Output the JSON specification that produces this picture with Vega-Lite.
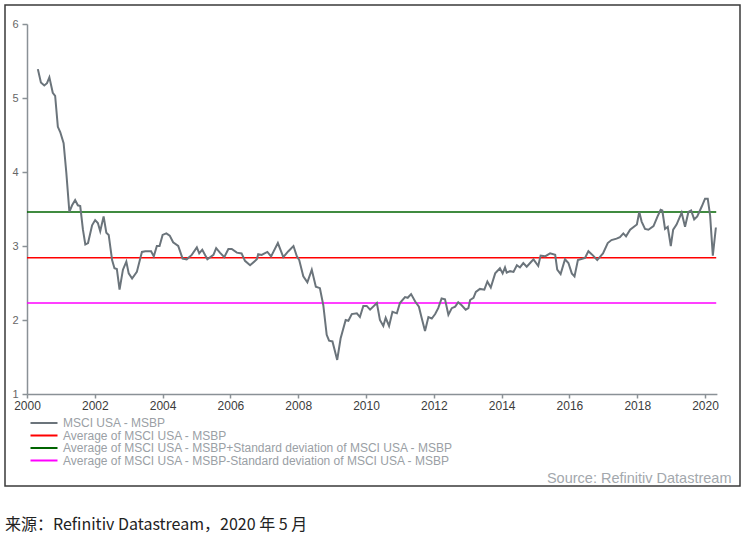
{
  "$schema": "https://vega.github.io/schema/vega-lite/v6.json",
  "width": 735,
  "height": 481,
  "autosize": "none",
  "padding": {"left": 5, "top": 5, "right": 7, "bottom": 57},
  "background": "white",
  "config": {
    "view": {"stroke": "#3a3a3a", "strokeWidth": 1.5},
    "font": "Liberation Sans",
    "axis": {"grid": false, "domainColor": "#8a9196", "domainWidth": 1.5, "tickColor": "#8a9196", "tickWidth": 1.5, "labelFont": "Liberation Sans"},
    "legend": {
      "orient": "none",
      "legendX": 33,
      "legendY": 412,
      "padding": 0,
      "title": null,
      "symbolType": "M-3,0H3",
      "symbolSize": 81,
      "symbolStrokeWidth": 2,
      "labelFont": "Liberation Sans",
      "labelFontSize": 12,
      "labelColor": "#9aa0a5",
      "labelOffset": 13,
      "labelLimit": 600,
      "rowPadding": 0.5
    }
  },
  "title": {
    "text": "来源：Refinitiv Datastream，2020 年 5 月",
    "orient": "bottom",
    "anchor": "start",
    "frame": "group",
    "font": "Noto Sans CJK SC",
    "fontSize": 16,
    "fontWeight": "normal",
    "color": "#222222",
    "offset": 31
  },
  "datasets": {
    "main": [
      {"t": 2000.32, "v": 5.39}, {"t": 2000.41, "v": 5.21}, {"t": 2000.51, "v": 5.17}, {"t": 2000.59, "v": 5.20},
      {"t": 2000.66, "v": 5.28}, {"t": 2000.76, "v": 5.07}, {"t": 2000.83, "v": 5.03}, {"t": 2000.91, "v": 4.61},
      {"t": 2000.98, "v": 4.54}, {"t": 2001.08, "v": 4.39}, {"t": 2001.16, "v": 3.99}, {"t": 2001.25, "v": 3.46},
      {"t": 2001.33, "v": 3.55}, {"t": 2001.42, "v": 3.62}, {"t": 2001.50, "v": 3.55}, {"t": 2001.57, "v": 3.54},
      {"t": 2001.65, "v": 3.22}, {"t": 2001.72, "v": 3.02}, {"t": 2001.80, "v": 3.04}, {"t": 2001.92, "v": 3.28},
      {"t": 2002.01, "v": 3.35}, {"t": 2002.09, "v": 3.31}, {"t": 2002.16, "v": 3.20}, {"t": 2002.26, "v": 3.40},
      {"t": 2002.34, "v": 3.18}, {"t": 2002.41, "v": 3.15}, {"t": 2002.51, "v": 2.81}, {"t": 2002.58, "v": 2.70},
      {"t": 2002.65, "v": 2.69}, {"t": 2002.73, "v": 2.41}, {"t": 2002.83, "v": 2.68}, {"t": 2002.93, "v": 2.79},
      {"t": 2003.00, "v": 2.63}, {"t": 2003.10, "v": 2.56}, {"t": 2003.24, "v": 2.65}, {"t": 2003.39, "v": 2.92},
      {"t": 2003.49, "v": 2.93}, {"t": 2003.66, "v": 2.93}, {"t": 2003.74, "v": 2.86}, {"t": 2003.83, "v": 3.00},
      {"t": 2003.91, "v": 3.00}, {"t": 2004.00, "v": 3.15}, {"t": 2004.11, "v": 3.17}, {"t": 2004.21, "v": 3.14},
      {"t": 2004.31, "v": 3.05}, {"t": 2004.46, "v": 3.00}, {"t": 2004.59, "v": 2.83}, {"t": 2004.71, "v": 2.82},
      {"t": 2004.86, "v": 2.88}, {"t": 2005.01, "v": 2.98}, {"t": 2005.08, "v": 2.90}, {"t": 2005.17, "v": 2.95},
      {"t": 2005.32, "v": 2.82}, {"t": 2005.50, "v": 2.88}, {"t": 2005.58, "v": 2.97}, {"t": 2005.69, "v": 2.91},
      {"t": 2005.82, "v": 2.85}, {"t": 2005.94, "v": 2.96}, {"t": 2006.04, "v": 2.96}, {"t": 2006.19, "v": 2.91},
      {"t": 2006.33, "v": 2.90}, {"t": 2006.43, "v": 2.80}, {"t": 2006.58, "v": 2.74}, {"t": 2006.78, "v": 2.82},
      {"t": 2006.82, "v": 2.89}, {"t": 2006.92, "v": 2.88}, {"t": 2007.09, "v": 2.92}, {"t": 2007.20, "v": 2.86},
      {"t": 2007.40, "v": 3.04}, {"t": 2007.56, "v": 2.85}, {"t": 2007.71, "v": 2.93}, {"t": 2007.86, "v": 3.00},
      {"t": 2007.96, "v": 2.86}, {"t": 2008.03, "v": 2.81}, {"t": 2008.15, "v": 2.59}, {"t": 2008.27, "v": 2.51},
      {"t": 2008.40, "v": 2.68}, {"t": 2008.52, "v": 2.45}, {"t": 2008.64, "v": 2.43}, {"t": 2008.74, "v": 2.20},
      {"t": 2008.84, "v": 1.80}, {"t": 2008.91, "v": 1.72}, {"t": 2009.01, "v": 1.71}, {"t": 2009.15, "v": 1.46},
      {"t": 2009.25, "v": 1.75}, {"t": 2009.40, "v": 2.00}, {"t": 2009.48, "v": 1.99}, {"t": 2009.58, "v": 2.08},
      {"t": 2009.73, "v": 2.09}, {"t": 2009.82, "v": 2.04}, {"t": 2009.92, "v": 2.19}, {"t": 2010.02, "v": 2.19},
      {"t": 2010.12, "v": 2.14}, {"t": 2010.32, "v": 2.23}, {"t": 2010.41, "v": 2.00}, {"t": 2010.51, "v": 1.92},
      {"t": 2010.58, "v": 2.03}, {"t": 2010.68, "v": 1.92}, {"t": 2010.78, "v": 2.11}, {"t": 2010.91, "v": 2.09},
      {"t": 2011.00, "v": 2.23}, {"t": 2011.15, "v": 2.31}, {"t": 2011.23, "v": 2.30}, {"t": 2011.33, "v": 2.35},
      {"t": 2011.45, "v": 2.25}, {"t": 2011.56, "v": 2.18}, {"t": 2011.64, "v": 2.03}, {"t": 2011.74, "v": 1.85},
      {"t": 2011.84, "v": 2.04}, {"t": 2011.94, "v": 2.02}, {"t": 2012.04, "v": 2.08}, {"t": 2012.13, "v": 2.16},
      {"t": 2012.23, "v": 2.29}, {"t": 2012.33, "v": 2.28}, {"t": 2012.43, "v": 2.07}, {"t": 2012.53, "v": 2.16},
      {"t": 2012.63, "v": 2.18}, {"t": 2012.72, "v": 2.24}, {"t": 2012.82, "v": 2.20}, {"t": 2012.94, "v": 2.14},
      {"t": 2013.02, "v": 2.16}, {"t": 2013.07, "v": 2.27}, {"t": 2013.17, "v": 2.30}, {"t": 2013.24, "v": 2.38},
      {"t": 2013.36, "v": 2.42}, {"t": 2013.49, "v": 2.41}, {"t": 2013.58, "v": 2.52}, {"t": 2013.68, "v": 2.44},
      {"t": 2013.81, "v": 2.63}, {"t": 2013.95, "v": 2.70}, {"t": 2014.03, "v": 2.63}, {"t": 2014.10, "v": 2.71},
      {"t": 2014.15, "v": 2.64}, {"t": 2014.25, "v": 2.66}, {"t": 2014.35, "v": 2.65}, {"t": 2014.45, "v": 2.74},
      {"t": 2014.54, "v": 2.71}, {"t": 2014.64, "v": 2.77}, {"t": 2014.74, "v": 2.72}, {"t": 2014.84, "v": 2.77},
      {"t": 2014.94, "v": 2.82}, {"t": 2015.08, "v": 2.73}, {"t": 2015.15, "v": 2.87}, {"t": 2015.28, "v": 2.86},
      {"t": 2015.43, "v": 2.90}, {"t": 2015.58, "v": 2.88}, {"t": 2015.64, "v": 2.68}, {"t": 2015.74, "v": 2.62},
      {"t": 2015.87, "v": 2.82}, {"t": 2015.97, "v": 2.77}, {"t": 2016.07, "v": 2.63}, {"t": 2016.15, "v": 2.59},
      {"t": 2016.25, "v": 2.81}, {"t": 2016.46, "v": 2.84}, {"t": 2016.56, "v": 2.93}, {"t": 2016.70, "v": 2.87},
      {"t": 2016.82, "v": 2.81}, {"t": 2016.99, "v": 2.90}, {"t": 2017.13, "v": 3.04}, {"t": 2017.24, "v": 3.08},
      {"t": 2017.39, "v": 3.10}, {"t": 2017.49, "v": 3.12}, {"t": 2017.59, "v": 3.17}, {"t": 2017.67, "v": 3.13},
      {"t": 2017.79, "v": 3.22}, {"t": 2017.99, "v": 3.29}, {"t": 2018.06, "v": 3.46}, {"t": 2018.13, "v": 3.33},
      {"t": 2018.23, "v": 3.23}, {"t": 2018.33, "v": 3.22}, {"t": 2018.48, "v": 3.27}, {"t": 2018.60, "v": 3.40},
      {"t": 2018.69, "v": 3.49}, {"t": 2018.74, "v": 3.48}, {"t": 2018.82, "v": 3.23}, {"t": 2018.90, "v": 3.26},
      {"t": 2018.99, "v": 3.00}, {"t": 2019.06, "v": 3.22}, {"t": 2019.16, "v": 3.29}, {"t": 2019.31, "v": 3.45},
      {"t": 2019.41, "v": 3.26}, {"t": 2019.51, "v": 3.46}, {"t": 2019.59, "v": 3.48}, {"t": 2019.68, "v": 3.36},
      {"t": 2019.77, "v": 3.40}, {"t": 2019.90, "v": 3.53}, {"t": 2020.00, "v": 3.64}, {"t": 2020.08, "v": 3.64},
      {"t": 2020.15, "v": 3.41}, {"t": 2020.23, "v": 2.87}, {"t": 2020.32, "v": 3.25}
    ],
    "levels": [
      {"series": "Average of MSCI USA - MSBP", "v": 2.84, "x0": 2000, "x1": 2020.33},
      {"series": "Average of MSCI USA - MSBP+Standard deviation of MSCI USA - MSBP", "v": 3.46, "x0": 2000, "x1": 2020.33},
      {"series": "Average of MSCI USA - MSBP-Standard deviation of MSCI USA - MSBP", "v": 2.23, "x0": 2000, "x1": 2020.33}
    ]
  },
  "layer": [
    {
      "data": {"name": "levels"},
      "mark": {"type": "rule", "strokeWidth": 1.5},
      "encoding": {
        "x": {"field": "x0", "type": "quantitative"},
        "x2": {"field": "x1"},
        "y": {"field": "v", "type": "quantitative"},
        "color": {"field": "series", "type": "nominal", "title": null, "legend": {"title": null}}
      }
    },
    {
      "data": {"name": "main"},
      "mark": {"type": "line", "strokeWidth": 2, "interpolate": "linear"},
      "encoding": {
        "x": {
          "field": "t",
          "type": "quantitative",
          "scale": {"domain": [2000, 2020.35], "range": [22, 711.9], "nice": false, "zero": false},
          "axis": {
            "values": [2000, 2002, 2004, 2006, 2008, 2010, 2012, 2014, 2016, 2018, 2020],
            "format": "d",
            "offset": -92,
            "tickSize": 4,
            "labelPadding": 2,
            "labelFontSize": 12,
            "labelColor": "#3c3c3c",
            "labelFlush": false,
            "labelOverlap": false,
            "title": "Source: Refinitiv Datastream",
            "titleX": 726,
            "titleY": 88,
            "titleAlign": "right",
            "titleBaseline": "alphabetic",
            "titleFontSize": 14.5,
            "titleFontWeight": "normal",
            "titleColor": "#a3a8ad",
            "titleFont": "Liberation Sans"
          }
        },
        "y": {
          "field": "v",
          "type": "quantitative",
          "scale": {"domain": [1, 6], "range": [389, 19], "nice": false, "zero": false},
          "axis": {
            "values": [1, 2, 3, 4, 5, 6],
            "format": "d",
            "offset": -22,
            "tickSize": 5,
            "labelPadding": 4,
            "labelFontSize": 11,
            "labelColor": "#666666",
            "title": null
          }
        },
        "color": {
          "datum": "MSCI USA - MSBP",
          "type": "nominal",
          "title": null,
          "scale": {
            "domain": [
              "MSCI USA - MSBP",
              "Average of MSCI USA - MSBP",
              "Average of MSCI USA - MSBP+Standard deviation of MSCI USA - MSBP",
              "Average of MSCI USA - MSBP-Standard deviation of MSCI USA - MSBP"
            ],
            "range": ["#6b747b", "#ff0000", "#006400", "#ff00ff"]
          },
          "legend": {"title": null}
        }
      }
    }
  ]
}
